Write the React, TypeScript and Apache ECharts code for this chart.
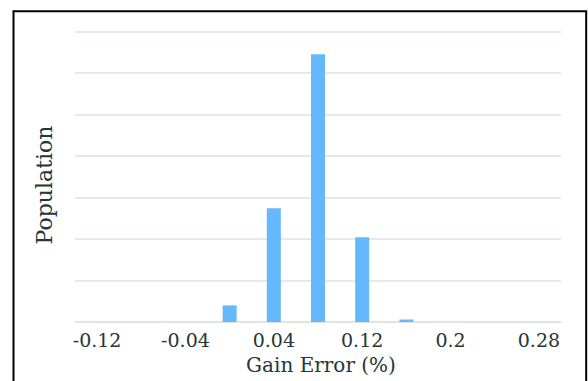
import React, { useEffect, useRef } from "react";
import * as echarts from "echarts";

const categories = ["-0.12", "-0.08", "-0.04", "0", "0.04", "0.08", "0.12", "0.16", "0.2", "0.24", "0.28"];
const population = [0, 0, 0, 4, 27.4, 64.5, 20.4, 0.6, 0, 0, 0];
const xTitle = "Gain Error (%)";
const yTitle = "Population";

const TEXT = "#263636";
const GRID = "#dce4e1";
const FONT = "DejaVu Serif";

export default function App() {
  const ref = useRef<HTMLDivElement>(null);
  useEffect(() => {
    const chart = echarts.init(ref.current!, null, { renderer: "svg" });
    chart.setOption({
      animation: false,
      backgroundColor: "#ffffff",
      grid: { left: 75, right: 27, top: 31.5, bottom: 59, containLabel: false },
      xAxis: {
        type: "category",
        data: categories,
        boundaryGap: true,
        axisLine: { show: true, lineStyle: { color: GRID, width: 1.5 } },
        axisTick: { show: false },
        axisLabel: {
          interval: 1,
          color: TEXT,
          fontFamily: FONT,
          fontSize: 19,
          margin: 8,
        },
      },
      yAxis: {
        type: "value",
        min: 0,
        max: 70,
        interval: 10,
        axisLine: { show: false },
        axisTick: { show: false },
        axisLabel: { show: false },
        splitLine: { show: true, lineStyle: { color: GRID, width: 1.5 } },
      },
      series: [
        {
          type: "bar",
          data: population,
          barWidth: 14,
          itemStyle: { color: "#66b8fd" },
        },
      ],
      graphic: [
        {
          type: "rect",
          shape: { x: 13.5, y: 11.3, width: 572.7, height: 420 },
          style: { fill: "none", stroke: "#000", lineWidth: 2 },
          silent: true,
        },
        {
          type: "text",
          x: 44,
          y: 185,
          rotation: Math.PI / 2,
          style: {
            text: yTitle,
            fill: TEXT,
            font: `22px "${FONT}"`,
            textAlign: "center",
            textVerticalAlign: "middle",
          },
        },
        {
          type: "text",
          x: 321,
          y: 365,
          style: {
            text: xTitle,
            fill: TEXT,
            font: `20px "${FONT}"`,
            textAlign: "center",
            textVerticalAlign: "middle",
          },
        },
      ],
    });
    return () => chart.dispose();
  }, []);
  return (
    <div
      ref={ref}
      style={{ position: "fixed", left: 0, top: 0, width: 588, height: 381 }}
    />
  );
}
